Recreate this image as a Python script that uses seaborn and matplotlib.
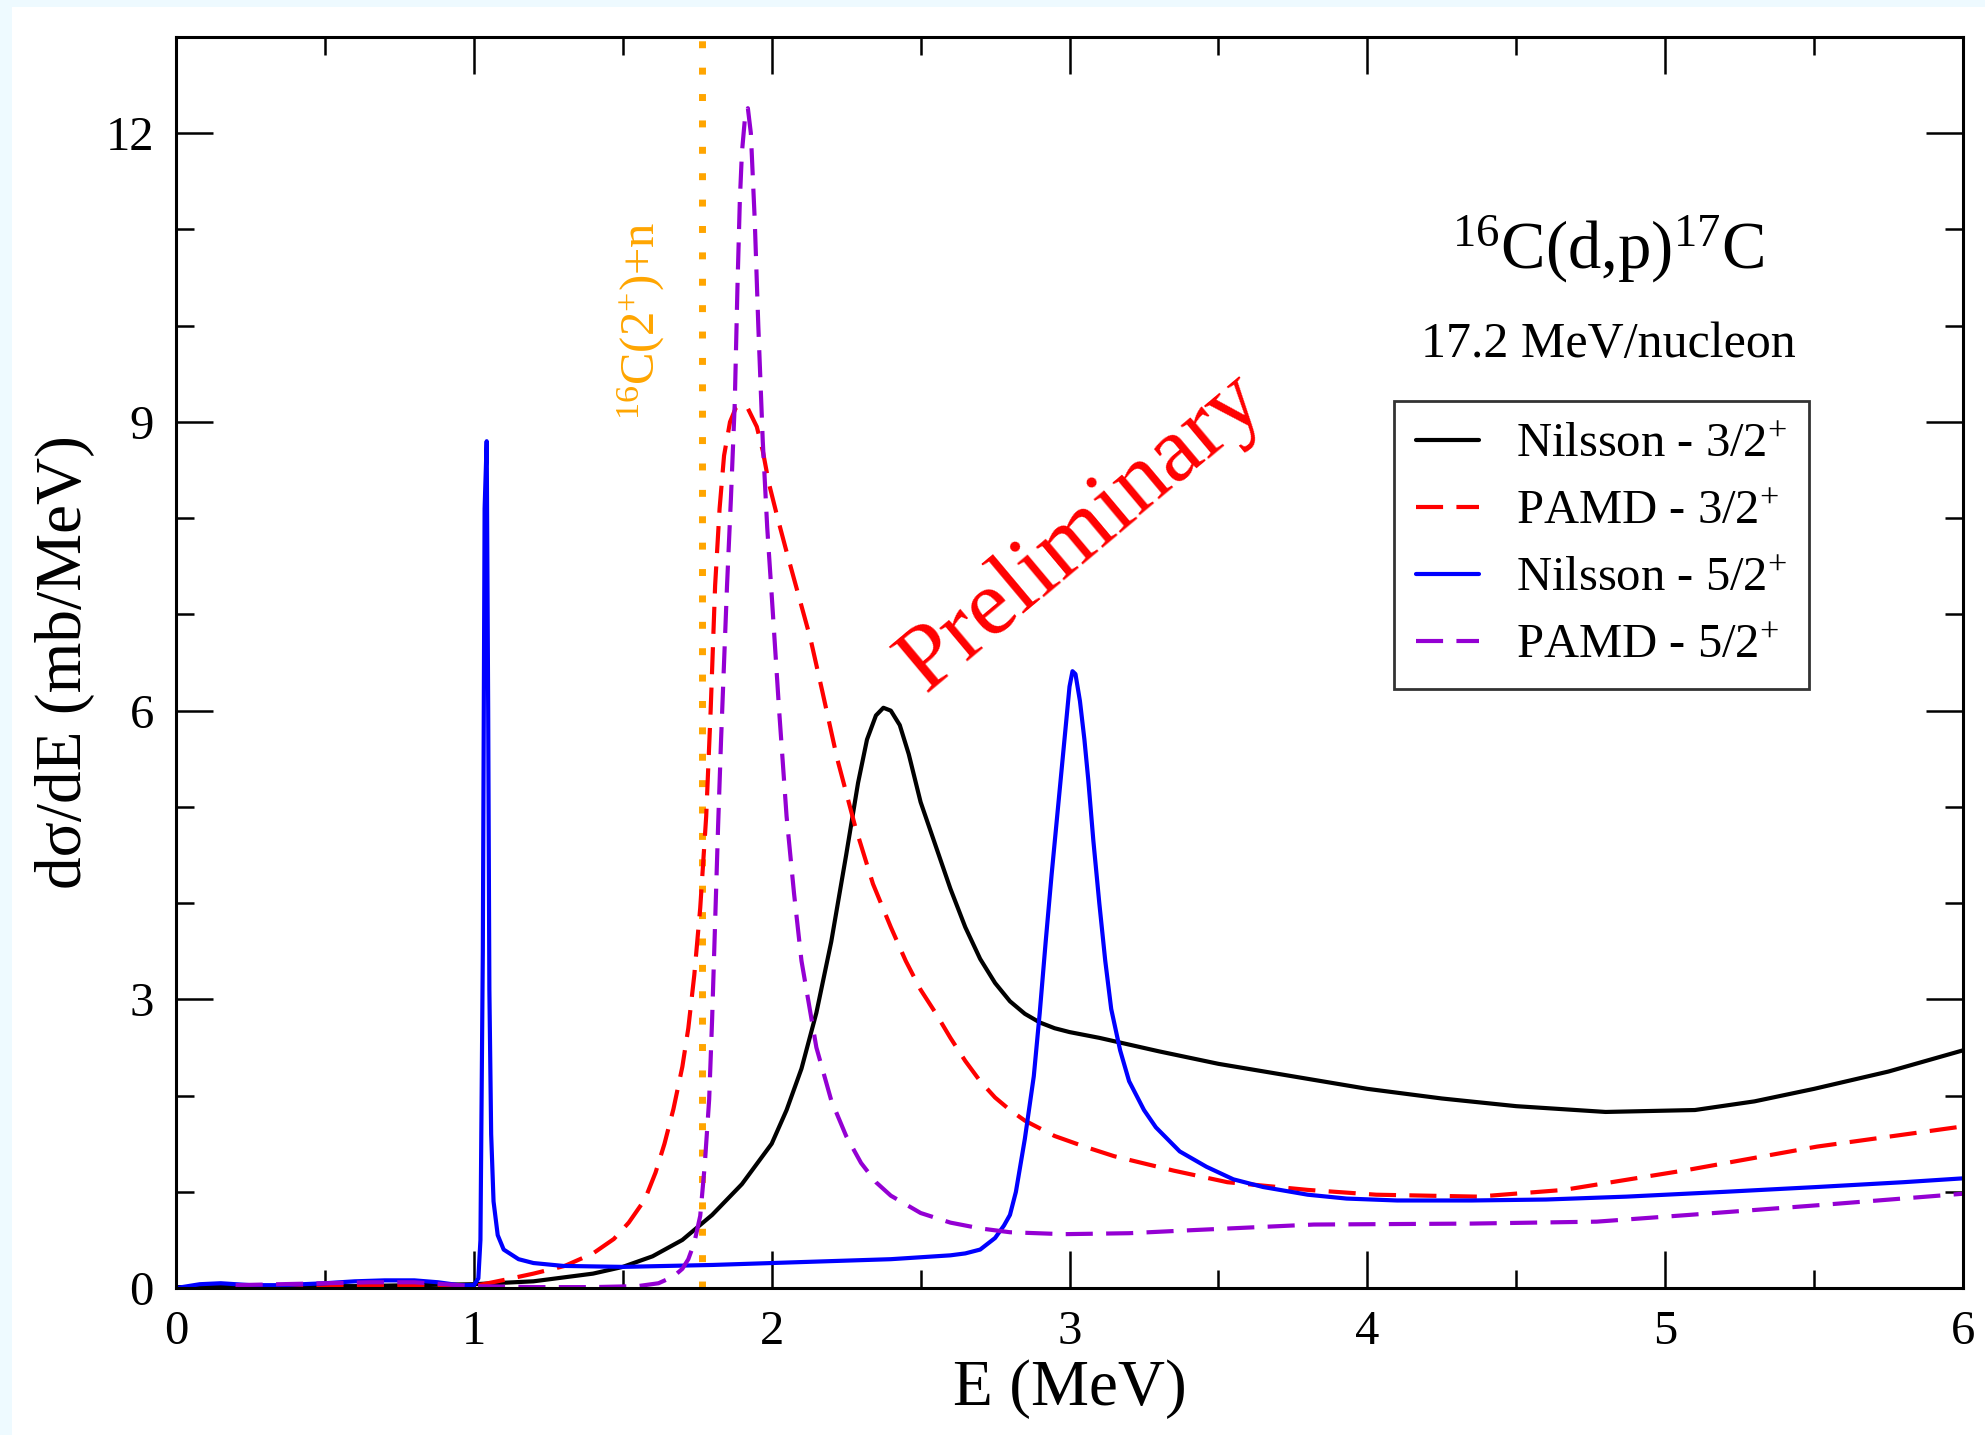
import matplotlib
matplotlib.use("Agg")
import matplotlib.pyplot as plt
from matplotlib.patches import Rectangle
from matplotlib.ticker import MultipleLocator
import seaborn as sns
import pandas as pd

# ---------------- data ----------------
E_nil32 = [0, 0.2, 0.4, 0.6, 0.8, 1.0, 1.2, 1.4, 1.5, 1.6, 1.7, 1.8, 1.9, 2.0, 2.05,
           2.1, 2.15, 2.2, 2.25, 2.29, 2.32, 2.35, 2.375, 2.40, 2.43, 2.46, 2.5,
           2.55, 2.6, 2.65, 2.7, 2.75, 2.8, 2.85, 2.9, 2.95, 3.0, 3.1, 3.2, 3.3,
           3.5, 3.75, 4.0, 4.25, 4.5, 4.8, 5.1, 5.3, 5.5, 5.75, 6.0]
S_nil32 = [0.01, 0.01, 0.02, 0.02, 0.03, 0.04, 0.07, 0.15, 0.22, 0.33, 0.5, 0.76,
           1.08, 1.5, 1.85, 2.28, 2.86, 3.6, 4.5, 5.25, 5.7, 5.95, 6.03, 6.0, 5.85,
           5.55, 5.05, 4.6, 4.15, 3.75, 3.42, 3.17, 2.98, 2.85, 2.76, 2.7, 2.66,
           2.6, 2.53, 2.46, 2.33, 2.2, 2.07, 1.97, 1.89, 1.83, 1.85, 1.94, 2.07,
           2.25, 2.47]

E_pamd32 = [0.2, 0.4, 0.6, 0.8, 1.0, 1.11, 1.2, 1.305, 1.4, 1.47, 1.52, 1.574, 1.61,
            1.64, 1.67, 1.70, 1.72, 1.74, 1.76, 1.78, 1.795, 1.81, 1.825, 1.84, 1.86,
            1.88, 1.9, 1.92, 1.95, 1.97, 1.99, 2.02, 2.05, 2.09, 2.13, 2.17, 2.22,
            2.28, 2.34, 2.4, 2.45, 2.5, 2.55, 2.6, 2.65, 2.7, 2.75, 2.8, 2.85, 2.95,
            3.05, 3.15, 3.35, 3.53, 3.8, 4.03, 4.37, 4.66, 5.08, 5.51, 6.0]
S_pamd32 = [0.01, 0.01, 0.02, 0.02, 0.02, 0.09, 0.15, 0.23, 0.36, 0.51, 0.68, 0.92,
            1.2, 1.5, 1.86, 2.3, 2.7, 3.25, 3.95, 4.9, 6.0, 7.3, 8.1, 8.65, 9.0, 9.15,
            9.18, 9.14, 8.95, 8.7, 8.37, 8.0, 7.65, 7.2, 6.75, 6.2, 5.5, 4.8, 4.2,
            3.75, 3.4, 3.1, 2.86, 2.6, 2.36, 2.15, 1.98, 1.85, 1.74, 1.58, 1.47,
            1.37, 1.22, 1.10, 1.02, 0.97, 0.95, 1.02, 1.23, 1.47, 1.68]

E_nil52 = [0, 0.08, 0.15, 0.25, 0.35, 0.5, 0.6, 0.7, 0.8, 0.88, 0.95, 1.0, 1.015,
           1.022, 1.03, 1.036, 1.043, 1.048, 1.052, 1.058, 1.066, 1.08, 1.1, 1.15,
           1.2, 1.3, 1.5, 1.8, 2.0, 2.2, 2.4, 2.5, 2.6, 2.65, 2.7, 2.75, 2.78, 2.8,
           2.82, 2.85, 2.88, 2.9, 2.92, 2.94, 2.96, 2.98, 3.0, 3.01, 3.02, 3.035,
           3.05, 3.063, 3.08, 3.1, 3.12, 3.14, 3.17, 3.2, 3.25, 3.29, 3.37, 3.46,
           3.55, 3.65, 3.8, 3.93, 4.1, 4.35, 4.6, 4.87, 5.2, 5.51, 5.8, 6.0]
S_nil52 = [0.0, 0.04, 0.05, 0.03, 0.03, 0.05, 0.07, 0.08, 0.08, 0.06, 0.03, 0.03,
           0.1, 0.5, 3.5, 8.1, 8.8, 6.0, 3.1, 1.6, 0.9, 0.55, 0.4, 0.3, 0.26, 0.23,
           0.22, 0.24, 0.26, 0.28, 0.3, 0.32, 0.34, 0.36, 0.4, 0.52, 0.65, 0.76,
           1.0, 1.55, 2.2, 2.86, 3.6, 4.3, 4.95, 5.6, 6.25, 6.41, 6.38, 6.1, 5.7,
           5.28, 4.65, 4.0, 3.4, 2.9, 2.47, 2.15, 1.85, 1.67, 1.42, 1.26, 1.13, 1.05,
           0.97, 0.93, 0.91, 0.91, 0.92, 0.95, 1.0, 1.05, 1.1, 1.14]

E_pamd52 = [0.2, 0.35, 0.5, 0.65, 0.8, 0.9, 1.0, 1.2, 1.4, 1.55, 1.62, 1.67, 1.7,
            1.72, 1.74, 1.76, 1.775, 1.79, 1.80, 1.81, 1.82, 1.83, 1.84, 1.85, 1.863,
            1.876, 1.885, 1.893, 1.90, 1.91, 1.92, 1.93, 1.943, 1.955, 1.97, 1.985,
            2.0, 2.025, 2.05, 2.075, 2.1, 2.15, 2.2, 2.25, 2.3, 2.35, 2.4, 2.5, 2.6,
            2.7, 2.8, 2.98, 3.2, 3.4, 3.82, 4.35, 4.77, 5.08, 5.51, 6.0]
S_pamd52 = [0.03, 0.04, 0.05, 0.06, 0.06, 0.04, 0.02, 0.01, 0.01, 0.02, 0.05, 0.12,
            0.2, 0.3, 0.47, 0.75, 1.27, 1.96, 2.8, 3.8, 4.8, 5.7, 6.5, 7.3, 8.2, 9.2,
            10.4, 11.3, 11.8, 12.15, 12.26, 12.0, 11.1, 10.0, 8.8, 7.9, 7.2, 6.0, 4.9,
            4.1, 3.4, 2.5, 1.95, 1.58, 1.3, 1.1, 0.96, 0.78, 0.68, 0.62, 0.58, 0.56,
            0.57, 0.6, 0.66, 0.67, 0.69, 0.76, 0.86, 0.98]

labels = ["Nilsson - 3/2$^{+}$", "PAMD - 3/2$^{+}$",
          "Nilsson - 5/2$^{+}$", "PAMD - 5/2$^{+}$"]
threshold_E = 1.766
threshold_label = "$^{16}$C(2$^{+}$)+n"
title_text = "$^{16}$C(d,p)$^{17}$C"
subtitle_text = "17.2 MeV/nucleon"
watermark = "Preliminary"
xlabel = "E (MeV)"
ylabel = "dσ/dE (mb/MeV)"

# ---------------- style ----------------
sns.set_theme(style="ticks")
plt.rcParams["font.family"] = ["Liberation Serif", "DejaVu Serif"]
plt.rcParams["mathtext.fontset"] = "custom"
plt.rcParams["mathtext.rm"] = "Liberation Serif"
plt.rcParams["mathtext.it"] = "Liberation Serif:italic"
plt.rcParams["mathtext.bf"] = "Liberation Serif:bold"
for key in ["text.color", "axes.labelcolor", "xtick.color", "ytick.color",
            "axes.edgecolor"]:
    plt.rcParams[key] = "black"

fig = plt.figure(figsize=(19.85, 14.35), dpi=100, facecolor="white")
# light frame strips of the original screenshot
fig.add_artist(Rectangle((0, 1 - 7 / 1435), 1, 7 / 1435, transform=fig.transFigure,
                         facecolor="#eefaff", edgecolor="none", zorder=-5))
fig.add_artist(Rectangle((0, 0), 12 / 1985, 1, transform=fig.transFigure,
                         facecolor="#eefaff", edgecolor="none", zorder=-5))

ax = fig.add_axes([0.0887, 0.1024, 0.9002, 0.8718])

series = [
    (E_nil32, S_nil32, "black", "-"),
    (E_pamd32, S_pamd32, "red", (0, (6.5, 3.2))),
    (E_nil52, S_nil52, "blue", "-"),
    (E_pamd52, S_pamd52, "#9400d3", (0, (6.5, 3.2))),
]
for (xs, ys, col, ls), lab in zip(series, labels):
    df = pd.DataFrame({"E": xs, "S": ys})
    sns.lineplot(data=df, x="E", y="S", ax=ax, color=col, linewidth=3.0,
                 linestyle=ls, label=lab, sort=False, estimator=None)

ax.axvline(threshold_E, color="#ffa500", linewidth=5, linestyle=(0, (1, 2.8)),
           dash_capstyle="butt", zorder=1)

ax.set_xlim(0, 6)
ax.set_ylim(0, 13)
ax.xaxis.set_major_locator(MultipleLocator(1))
ax.xaxis.set_minor_locator(MultipleLocator(0.5))
ax.yaxis.set_major_locator(MultipleLocator(3))
ax.yaxis.set_minor_locator(MultipleLocator(1))
ax.tick_params(which="both", direction="in", top=True, right=True, width=1.8,
               color="black", labelcolor="black")
ax.tick_params(which="major", length=26.5, labelsize=35, pad=16)
ax.tick_params(which="minor", length=13)
for sp in ax.spines.values():
    sp.set_linewidth(2.2)
    sp.set_color("black")

ax.set_xlabel(xlabel, fontsize=47, labelpad=3.5, color="black")
ax.set_ylabel(ylabel, fontsize=47, labelpad=7.5, color="black")

ax.text(1.561, 10.05, threshold_label, color="#ffa500", fontsize=35,
        rotation=90, ha="center", va="center")
ax.text(3.04, 7.85, watermark, color="red", fontsize=68, rotation=40,
        ha="center", va="center", rotation_mode="anchor")
ax.text(0.8015, 0.83, title_text, transform=ax.transAxes, fontsize=48,
        ha="center", va="center", color="black")
ax.text(0.8015, 0.754, subtitle_text, transform=ax.transAxes, fontsize=36,
        ha="center", va="center", color="black")

leg = ax.legend(loc="upper left", bbox_to_anchor=(0.6816, 0.709), borderaxespad=0,
                fontsize=35, frameon=True, fancybox=False, handlelength=1.3,
                handletextpad=0.75, labelspacing=0.47, borderpad=0.45)
leg.get_frame().set_edgecolor("black")
leg.get_frame().set_linewidth(2.0)
for t in leg.get_texts():
    t.set_color("black")

fig.savefig("out.png", dpi=100, facecolor=fig.get_facecolor())
